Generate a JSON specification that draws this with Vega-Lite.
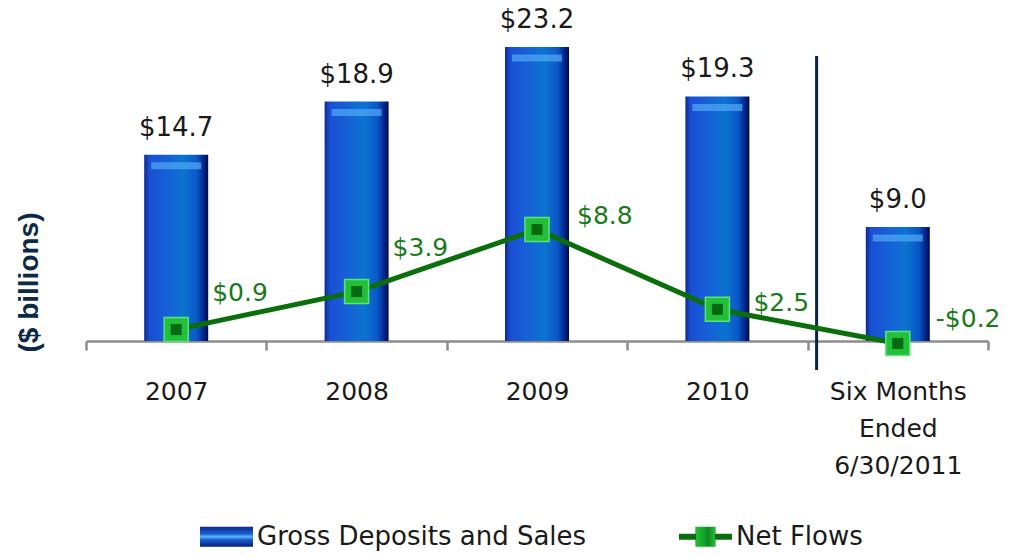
{
  "$schema": "https://vega.github.io/schema/vega-lite/v6.json",
  "width": 902,
  "height": 341,
  "autosize": {"type": "none"},
  "padding": {"left": 86, "top": 0, "right": 27, "bottom": 216},
  "background": "white",
  "config": {
    "view": {"stroke": null},
    "font": "DejaVu Sans",
    "locale": {"number": {"decimal": ".", "thousands": ",", "grouping": [3], "currency": ["$", ""], "minus": "-"}},
    "axisY": {
      "domain": false,
      "ticks": false,
      "labels": false,
      "grid": false,
      "titleFont": "Liberation Sans",
      "titleFontSize": 28,
      "titleFontWeight": "bold",
      "titleColor": "#0b2a48",
      "titleX": -57,
      "titleY": 282,
      "titleAngle": -90,
      "titleAlign": "center",
      "titleBaseline": "middle"
    }
  },
  "data": {
    "values": [
      {"period": "2007", "gross": 14.7, "net": 0.9},
      {"period": "2008", "gross": 18.9, "net": 3.9},
      {"period": "2009", "gross": 23.2, "net": 8.8},
      {"period": "2010", "gross": 19.3, "net": 2.5},
      {"period": "Six Months Ended 6/30/2011", "gross": 9.0, "net": -0.2}
    ]
  },
  "encoding": {
    "x": {
      "field": "period",
      "type": "nominal",
      "sort": null,
      "scale": {"paddingInner": 0, "paddingOuter": 0},
      "axis": {
        "title": null,
        "labelAngle": 0,
        "domainColor": "#8c8c8c",
        "domainWidth": 2.5,
        "tickColor": "#8c8c8c",
        "tickWidth": 2.5,
        "tickSize": 9,
        "tickBand": "extent",
        "labelFont": "DejaVu Sans",
        "labelFontSize": 25,
        "labelColor": "#1a1a1a",
        "labelPadding": 29,
        "labelLineHeight": 37,
        "labelLimit": 0,
        "labelExpr": "datum.value == 'Six Months Ended 6/30/2011' ? ['Six Months', 'Ended', '6/30/2011'] : datum.label"
      }
    }
  },
  "layer": [
    {
      "mark": {
        "type": "bar",
        "width": 64,
        "color": {
          "gradient": "linear", "x1": 0, "y1": 0, "x2": 1, "y2": 0,
          "stops": [
            {"offset": 0, "color": "#0c2a8c"},
            {"offset": 0.08, "color": "#1a4fd4"},
            {"offset": 0.4, "color": "#1563d8"},
            {"offset": 0.62, "color": "#0a74d0"},
            {"offset": 0.82, "color": "#0b58c8"},
            {"offset": 0.93, "color": "#04268c"},
            {"offset": 1, "color": "#000a4a"}
          ]
        }
      },
      "encoding": {
        "y": {"field": "gross", "type": "quantitative", "title": "($ billions)", "scale": {"domain": [0, 26.91], "nice": false, "zero": true}}
      }
    },
    {
      "mark": {"type": "tick", "orient": "horizontal", "color": "#52aaf7", "thickness": 7, "size": 50, "yOffset": 11},
      "encoding": {
        "y": {"field": "gross", "type": "quantitative", "title": "($ billions)", "scale": {"domain": [0, 26.91], "nice": false, "zero": true}}
      }
    },
    {
      "mark": {"type": "text", "fontSize": 26, "color": "#1a1a1a", "baseline": "middle", "dy": -27},
      "encoding": {
        "y": {"field": "gross", "type": "quantitative", "title": "($ billions)", "scale": {"domain": [0, 26.91], "nice": false, "zero": true}},
        "text": {"field": "gross", "type": "quantitative", "format": "$.1f"}
      }
    },
    {
      "data": {"values": [{}]},
      "mark": {"type": "rule", "color": "#0b2440", "strokeWidth": 3, "xOffset": 9},
      "encoding": {
        "x": {"datum": "Six Months Ended 6/30/2011", "bandPosition": 0},
        "y": {"datum": 22.49, "type": "quantitative", "title": "($ billions)", "scale": {"domain": [0, 26.91], "nice": false, "zero": true}},
        "y2": {"datum": -2.29}
      }
    },
    {
      "mark": {"type": "line", "strokeWidth": 5},
      "encoding": {
        "y": {"field": "net", "type": "quantitative", "title": "($ billions)", "scale": {"domain": [0, 26.91], "nice": false, "zero": true}},
        "color": {
          "datum": "Net Flows",
          "type": "nominal",
          "scale": {"domain": ["Gross Deposits and Sales", "Net Flows"], "range": ["#1a55c8", "#0a6e0a"]},
          "legend": {
            "title": null,
            "orient": "none",
            "legendX": 114,
            "legendY": 510,
            "direction": "horizontal",
            "padding": 0,
            "symbolSize": 2809,
            "symbolType": "M-1,-0.377H1V0.377H-1Z",
            "symbolStrokeWidth": 0,
            "labelFont": "DejaVu Sans",
            "labelFontSize": 26,
            "labelColor": "#1a1a1a",
            "labelOffset": 4,
            "labelLimit": 0,
            "columnPadding": 92,
            "encode": {
              "symbols": {
                "update": {
                  "shape": [
                    {"test": "datum.value === 'Net Flows'", "value": "M-1,-0.113H-0.377V-0.377H0.377V-0.113H1V0.113H0.377V0.377H-0.377V0.113H-1Z"},
                    {"value": "M-1,-0.377H1V0.377H-1Z"}
                  ],
                  "fill": [
                    {"test": "datum.value === 'Net Flows'", "value": {"gradient": "linear", "x1": 0, "y1": 0, "x2": 1, "y2": 0, "stops": [
                      {"offset": 0, "color": "#0a6e0a"}, {"offset": 0.32, "color": "#0a6e0a"},
                      {"offset": 0.321, "color": "#1fbf35"}, {"offset": 0.45, "color": "#16a82c"}, {"offset": 0.55, "color": "#0f8a20"}, {"offset": 0.679, "color": "#1fbf35"},
                      {"offset": 0.68, "color": "#0a6e0a"}, {"offset": 1, "color": "#0a6e0a"}
                    ]}},
                    {"value": {"gradient": "linear", "x1": 0, "y1": 0, "x2": 0, "y2": 1, "stops": [
                      {"offset": 0, "color": "#0a2a8c"}, {"offset": 0.35, "color": "#1a5ad0"}, {"offset": 0.5, "color": "#5ab8ff"},
                      {"offset": 0.65, "color": "#1a5ad0"}, {"offset": 1, "color": "#061f78"}
                    ]}}
                  ],
                  "stroke": {"value": null},
                  "strokeWidth": {"value": 0},
                  "opacity": {"value": 1}
                }
              }
            }
          }
        }
      }
    },
    {
      "mark": {"type": "point", "shape": "square", "filled": true, "size": 576, "color": "#22c03a", "stroke": "#5ee27a", "strokeWidth": 1.5, "opacity": 1},
      "encoding": {
        "y": {"field": "net", "type": "quantitative", "title": "($ billions)", "scale": {"domain": [0, 26.91], "nice": false, "zero": true}}
      }
    },
    {
      "mark": {"type": "point", "shape": "square", "filled": true, "size": 121, "color": "#046a12", "opacity": 1},
      "encoding": {
        "y": {"field": "net", "type": "quantitative", "title": "($ billions)", "scale": {"domain": [0, 26.91], "nice": false, "zero": true}}
      }
    },
    {
      "transform": [{"filter": "datum.period === '2007'"}],
      "mark": {"type": "text", "fontSize": 25, "color": "#1a7a1a", "align": "left", "baseline": "middle", "dx": 36, "dy": -37},
      "encoding": {
        "y": {"field": "net", "type": "quantitative", "title": "($ billions)", "scale": {"domain": [0, 26.91], "nice": false, "zero": true}},
        "text": {"field": "net", "type": "quantitative", "format": "$.1f"}
      }
    },
    {
      "transform": [{"filter": "datum.period === '2008'"}],
      "mark": {"type": "text", "fontSize": 25, "color": "#1a7a1a", "align": "left", "baseline": "middle", "dx": 36, "dy": -44},
      "encoding": {
        "y": {"field": "net", "type": "quantitative", "title": "($ billions)", "scale": {"domain": [0, 26.91], "nice": false, "zero": true}},
        "text": {"field": "net", "type": "quantitative", "format": "$.1f"}
      }
    },
    {
      "transform": [{"filter": "datum.period === '2009'"}],
      "mark": {"type": "text", "fontSize": 25, "color": "#1a7a1a", "align": "left", "baseline": "middle", "dx": 40, "dy": -13},
      "encoding": {
        "y": {"field": "net", "type": "quantitative", "title": "($ billions)", "scale": {"domain": [0, 26.91], "nice": false, "zero": true}},
        "text": {"field": "net", "type": "quantitative", "format": "$.1f"}
      }
    },
    {
      "transform": [{"filter": "datum.period === '2010'"}],
      "mark": {"type": "text", "fontSize": 25, "color": "#1a7a1a", "align": "left", "baseline": "middle", "dx": 36, "dy": -6},
      "encoding": {
        "y": {"field": "net", "type": "quantitative", "title": "($ billions)", "scale": {"domain": [0, 26.91], "nice": false, "zero": true}},
        "text": {"field": "net", "type": "quantitative", "format": "$.1f"}
      }
    },
    {
      "transform": [{"filter": "datum.period === 'Six Months Ended 6/30/2011'"}],
      "mark": {"type": "text", "fontSize": 25, "color": "#1a7a1a", "align": "left", "baseline": "middle", "dx": 38, "dy": -25},
      "encoding": {
        "y": {"field": "net", "type": "quantitative", "title": "($ billions)", "scale": {"domain": [0, 26.91], "nice": false, "zero": true}},
        "text": {"field": "net", "type": "quantitative", "format": "$.1f"}
      }
    }
  ]
}
